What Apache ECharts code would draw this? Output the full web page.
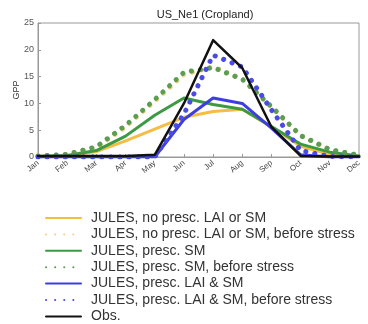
<!DOCTYPE html>
<html>
<head>
<meta charset="utf-8">
<script src="https://cdn.jsdelivr.net/npm/echarts@6/dist/echarts.min.js"></script>
<style>
  html, body { margin: 0; padding: 0; background: #fff; }
  #chart { width: 368px; height: 324px; }
</style>
</head>
<body>
<div id="chart"></div>
<script>
// Monthly GPP at US_Ne1 (Cropland): JULES runs vs. observations
const months = ['Jan', 'Feb', 'Mar', 'Apr', 'May', 'Jun', 'Jul', 'Aug', 'Sep', 'Oct', 'Nov', 'Dec'];
const yTicks = [0, 5, 10, 15, 20, 25];

const noPresc         = [0.1, 0.2, 1.0, 3.0, 5.2, 7.4, 8.5, 8.9, 5.6, 2.0, 0.5, 0.1];
const noPrescBefore   = [0.2, 0.5, 1.8, 5.6, 10.4, 15.4, 16.8, 14.6, 9.3, 4.0, 1.3, 0.3];
const prescSM         = [0.1, 0.3, 1.2, 3.9, 7.8, 11.0, 9.8, 8.9, 5.7, 2.4, 0.9, 0.2];
const prescSMBefore   = [0.2, 0.5, 1.9, 5.9, 10.7, 15.8, 16.7, 14.5, 9.4, 4.0, 1.4, 0.3];
const prescLaiSM      = [0.0, 0.0, 0.0, 0.0, 0.0, 7.0, 11.0, 10.0, 5.4, 0.4, 0.0, 0.0];
const prescLaiSMBefore= [0.0, 0.0, 0.0, 0.0, 0.0, 8.0, 19.0, 16.8, 8.8, 1.2, 0.1, 0.0];
const obs             = [0.2, 0.2, 0.2, 0.2, 0.4, 10.0, 21.8, 16.6, 5.6, 0.2, 0.1, 0.1];

const FONT = 'Liberation Sans, Arial, sans-serif';
const dotted = { type: [0.1, 9], cap: 'round', width: 5 };

function line(name, data, color, style, z) {
  return {
    name, type: 'line', data, symbol: 'none', z,
    lineStyle: Object.assign({ color, width: 3, cap: 'round', join: 'round' }, style || {}),
    itemStyle: { color }
  };
}

const chart = echarts.init(document.getElementById('chart'));
chart.setOption({
  animation: false,
  backgroundColor: '#fff',
  textStyle: { fontFamily: FONT },
  title: {
    text: 'US_Ne1 (Cropland)', left: 200, top: 4, textAlign: 'center',
    textStyle: { fontSize: 11, fontWeight: 'normal', color: '#222', fontFamily: FONT }
  },
  grid: {
    left: 38, right: 9, top: 23, bottom: 167,
    show: true, borderColor: '#999', borderWidth: 1
  },
  legend: {
    orient: 'vertical', left: 45, top: 211, height: 113, padding: 0,
    itemWidth: 35, itemHeight: 10, itemGap: 2.4,
    itemStyle: { opacity: 0 },
    textStyle: {
      fontSize: 14, lineHeight: 14, color: '#333', fontFamily: FONT,
      padding: [0, 0, 0, 5]
    },
    data: [
      'JULES, no presc. LAI or SM',
      'JULES, no presc. LAI or SM, before stress',
      'JULES, presc. SM',
      'JULES, presc. SM, before stress',
      'JULES, presc. LAI & SM',
      'JULES, presc. LAI & SM, before stress',
      'Obs.'
    ]
  },
  xAxis: {
    type: 'category', data: months, boundaryGap: false,
    axisLine: { lineStyle: { color: '#999' } },
    axisTick: { inside: true, length: 3, lineStyle: { color: '#999' } },
    axisLabel: { rotate: 40, fontSize: 8, color: '#444', margin: 5, fontFamily: FONT },
    splitLine: { show: false }
  },
  yAxis: {
    type: 'value', min: yTicks[0], max: yTicks[yTicks.length - 1], interval: 5,
    name: 'GPP', nameLocation: 'middle', nameGap: 17, nameMoveOverlap: false,
    nameTextStyle: { fontSize: 9, color: '#333', fontFamily: FONT },
    axisLine: { show: true, lineStyle: { color: '#999' } },
    axisTick: { show: true, inside: true, length: 3, lineStyle: { color: '#999' } },
    axisLabel: { fontSize: 9, color: '#555', margin: 4, fontFamily: FONT },
    splitLine: { show: false }
  },
  series: [
    line('JULES, no presc. LAI or SM', noPresc, '#f5bd45', null, 2),
    line('JULES, no presc. LAI or SM, before stress', noPrescBefore, '#f3cf86', dotted, 2),
    line('JULES, presc. SM', prescSM, '#3c9a45', null, 3),
    line('JULES, presc. SM, before stress', prescSMBefore, '#5a9e52', dotted, 3),
    line('JULES, presc. LAI & SM', prescLaiSM, '#3e3ee0', null, 4),
    line('JULES, presc. LAI & SM, before stress', prescLaiSMBefore, '#4a4ae6', dotted, 4),
    line('Obs.', obs, '#111111', { width: 2.5 }, 5)
  ]
});
</script>
</body>
</html>
